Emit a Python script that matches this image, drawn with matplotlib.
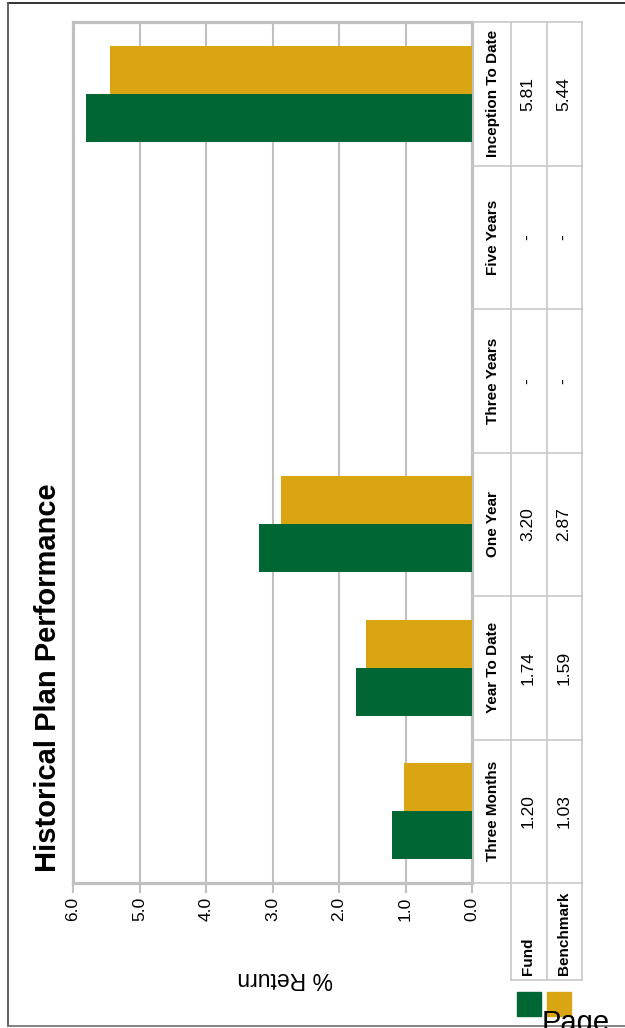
import numpy as np
import matplotlib
matplotlib.use("Agg")
import matplotlib.pyplot as plt
from matplotlib import font_manager as fm
from matplotlib.patches import Rectangle
from matplotlib.lines import Line2D

# ---- data -------------------------------------------------------------
categories = ["Three Months", "Year To Date", "One Year",
              "Three Years", "Five Years", "Inception To Date"]
fund = [1.20, 1.74, 3.20, None, None, 5.81]
benchmark = [1.03, 1.59, 2.87, None, None, 5.44]
series_names = ["Fund", "Benchmark"]
x_ticks = [0, 1, 2, 3, 4, 5, 6]

GREEN = "#006633"
GOLD = "#D9A512"
GRID = "#C0C0C0"
CELL = "#C8C8C8"

# ---- fonts ------------------------------------------------------------
def has_font(name):
    try:
        fm.findfont(fm.FontProperties(family=name), fallback_to_default=False)
        return True
    except ValueError:
        return False

BASE = "Liberation Sans" if has_font("Liberation Sans") else "DejaVu Sans"
if has_font("Liberation Sans Narrow"):
    HEAD_FONT, HEAD_SIZE = "Liberation Sans Narrow", 13.3
else:
    HEAD_FONT, HEAD_SIZE = BASE, 11.0
plt.rcParams["font.family"] = [BASE, "DejaVu Sans"]

W, H = 625, 1028
fig = plt.figure(figsize=(W / 100, H / 100), dpi=100)


def fx(px):
    return px / W


def fy(py):
    return 1 - py / H


# ---- bar chart --------------------------------------------------------
left, right, top, bottom = 73, 472, 22, 883
ax = fig.add_axes([fx(left), fy(bottom), (right - left) / W, (bottom - top) / H])

pos = np.arange(len(categories))
bar_h = 0.335
f_mask = np.array([v is not None for v in fund])
b_mask = np.array([v is not None for v in benchmark])
f_vals = np.array([v for v in fund if v is not None])
b_vals = np.array([v for v in benchmark if v is not None])

ax.barh(pos[f_mask] - bar_h / 2, f_vals, height=bar_h, color=GREEN, zorder=3)
ax.barh(pos[b_mask] + bar_h / 2, b_vals, height=bar_h, color=GOLD, zorder=3)

ax.set_xlim(max(x_ticks), min(x_ticks))
ax.set_ylim(-0.5, len(categories) - 0.5)
ax.set_xticks(x_ticks)
ax.set_xticklabels([f"{t:.1f}" for t in x_ticks])
ax.grid(axis="x", color=GRID, linewidth=1.5)
ax.set_axisbelow(True)
for sp in ax.spines.values():
    sp.set_color(GRID)
    sp.set_linewidth(2.3)
ax.tick_params(axis="x", direction="out", length=7, width=1.5, color=GRID,
               pad=3, labelrotation=90, labelsize=12.5)
ax.tick_params(axis="y", left=False, labelleft=False)

# title and axis label
fig.text(fx(56), fy(678), "Historical Plan Performance", rotation=90,
         rotation_mode="anchor", ha="center", va="baseline",
         fontsize=21, fontweight="bold")
fig.text(fx(285), fy(978), "% Return", rotation=180, ha="center",
         va="center", fontsize=16.5)

# ---- data table -------------------------------------------------------
tab_w = 110
tax = fig.add_axes([fx(right), fy(bottom), tab_w / W, (bottom - top) / H])
tax.set_xlim(0, tab_w)
tax.set_ylim(-0.5, len(categories) - 0.5)
tax.axis("off")

slot_px = (bottom - top) / len(categories)
ext = (980 - bottom) / slot_px
col_lines = [39, 75, 110]
col_centers = [21, 56, 92]

for cx in col_lines:
    tax.add_line(Line2D([cx, cx], [-0.5 - ext, len(categories) - 0.5],
                        color=CELL, lw=1.2, clip_on=False))
for k in range(len(categories) + 1):
    tax.add_line(Line2D([0, tab_w], [k - 0.5, k - 0.5], color=CELL, lw=1.2,
                        clip_on=False))
tax.add_line(Line2D([col_lines[0], tab_w], [-0.5 - ext, -0.5 - ext],
                    color=CELL, lw=1.2, clip_on=False))


def fmt(v):
    return "-" if v is None else f"{v:.2f}"


for i, cat in enumerate(categories):
    tax.text(col_centers[0], i, cat, rotation=90, rotation_mode="anchor",
             ha="center", va="center", fontsize=HEAD_SIZE, fontweight="bold",
             family=[HEAD_FONT, "DejaVu Sans"])
    tax.text(col_centers[1], i, fmt(fund[i]), rotation=90,
             rotation_mode="anchor", ha="center", va="center", fontsize=12.5)
    tax.text(col_centers[2], i, fmt(benchmark[i]), rotation=90,
             rotation_mode="anchor", ha="center", va="center", fontsize=12.5)

for name, cx in zip(series_names, col_centers[1:]):
    fig.text(fx(right + cx), fy(975), name, rotation=90,
             rotation_mode="anchor", ha="left", va="center",
             fontsize=HEAD_SIZE, fontweight="bold",
             family=[HEAD_FONT, "DejaVu Sans"])

# legend swatches
for x0, c in [(517, GREEN), (547, GOLD)]:
    fig.patches.append(Rectangle((fx(x0), fy(1016)), 24 / W, 24 / H,
                                 transform=fig.transFigure, color=c))

fig.text(fx(542), fy(1031), "Page", fontsize=21, ha="left", va="baseline")

# page border
for xs, ys, c in [([8, 625], [3, 3], "#222222"),
                  ([8, 8], [3, 1026], "#555555"),
                  ([8, 625], [1026, 1026], "#777777")]:
    fig.lines.append(Line2D([fx(x) for x in xs], [fy(y) for y in ys],
                            transform=fig.transFigure, color=c, lw=1.3))

fig.savefig("out.png", dpi=100)
